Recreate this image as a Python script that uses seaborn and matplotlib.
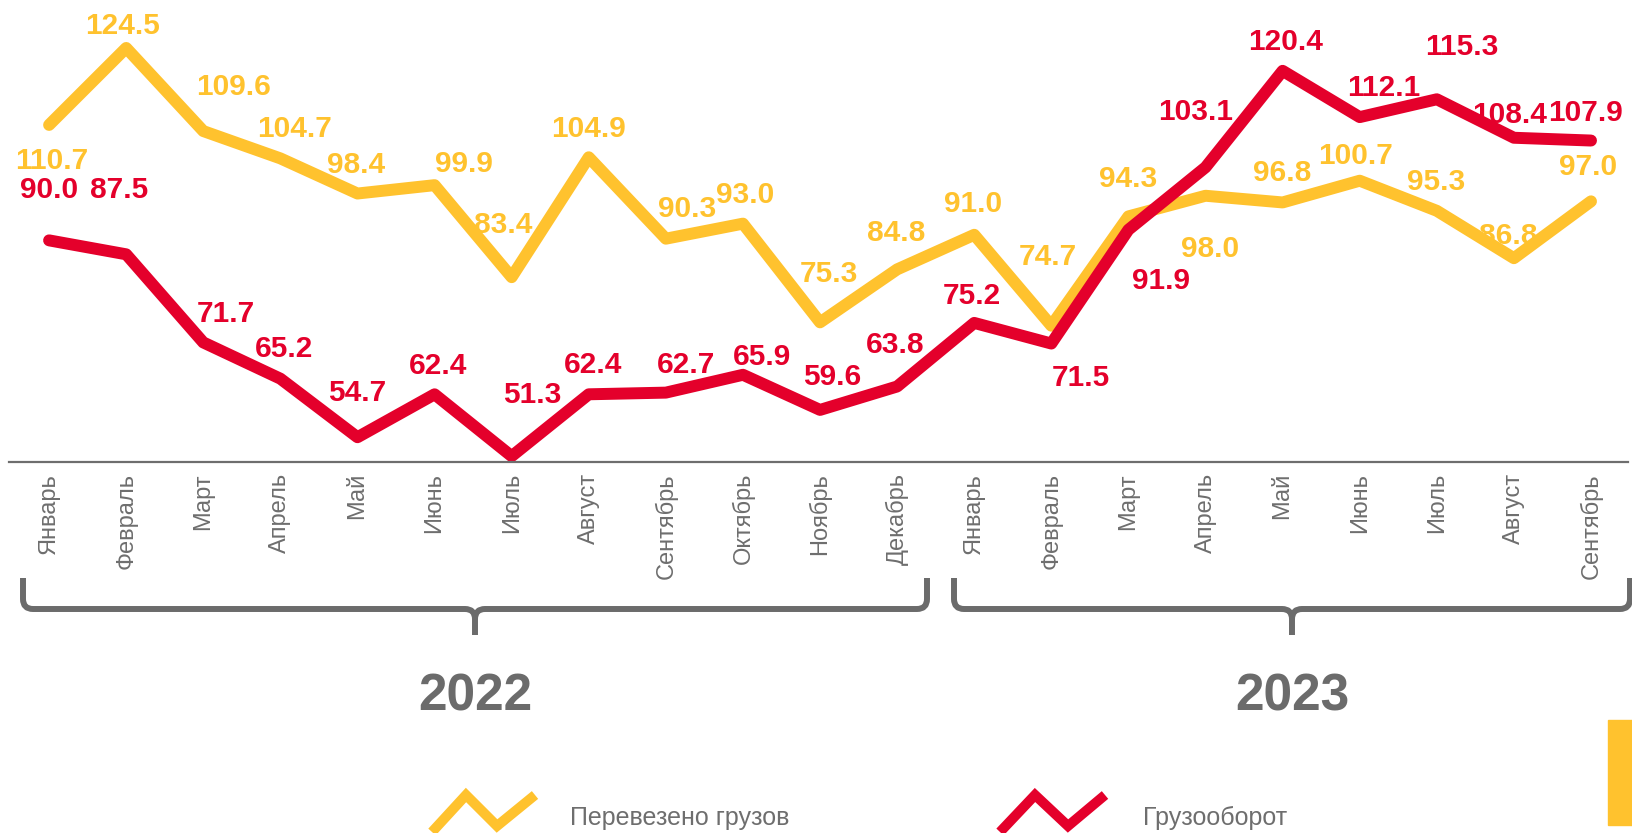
import numpy as np
import pandas as pd
import matplotlib
matplotlib.use("Agg")
import matplotlib.pyplot as plt
from matplotlib.lines import Line2D
from matplotlib.patches import Rectangle, PathPatch
from matplotlib.path import Path
import seaborn as sns

# Данные
months = ["Январь", "Февраль", "Март", "Апрель", "Май", "Июнь", "Июль", "Август",
          "Сентябрь", "Октябрь", "Ноябрь", "Декабрь",
          "Январь", "Февраль", "Март", "Апрель", "Май", "Июнь", "Июль", "Август", "Сентябрь"]
cargo = [110.7, 124.5, 109.6, 104.7, 98.4, 99.9, 83.4, 104.9, 90.3, 93.0, 75.3, 84.8,
         91.0, 74.7, 94.3, 98.0, 96.8, 100.7, 95.3, 86.8, 97.0]
turnover = [90.0, 87.5, 71.7, 65.2, 54.7, 62.4, 51.3, 62.4, 62.7, 65.9, 59.6, 63.8,
            75.2, 71.5, 91.9, 103.1, 120.4, 112.1, 115.3, 108.4, 107.9]
years = ["2022", "2023"]
series_names = ["Перевезено грузов", "Грузооборот"]

YELLOW = "#FFC22E"
RED = "#E4002B"
GRAY = "#6B6B6B"

# смещения подписей от точки (пиксели)
cargo_off = [(3, -36), (-4, 22), (30, 44), (14, 29), (-1, 29), (29, 21), (-8, 52), (0, 28),
             (21, 30), (2, 29), (9, 48), (-1, 36), (-1, 31), (-3, 69), (0, 37), (5, -53),
             (0, 29), (-4, 25), (-1, 29), (-6, 22), (-3, 34)]
turn_off = [(0, 50), (-7, 64), (23, 28), (4, 30), (0, 44), (3, 28), (21, 61), (4, 29),
            (20, 28), (19, 18), (12, 33), (-2, 41), (-2, 27), (30, -34), (33, -51), (-10, 55),
            (3, 29), (24, 29), (25, 52), (-4, 23), (-5, 28)]

sns.set_theme(style="white")
plt.rcParams["font.family"] = ["Liberation Sans", "DejaVu Sans"]

W, H = 1633, 833
fig = plt.figure(figsize=(W / 100, H / 100), dpi=100)
ax = fig.add_axes([9 / W, 1 - 462 / H, (1628 - 9) / W, 462 / H])

df = pd.DataFrame({
    "x": list(range(len(months))) * 2,
    "value": cargo + turnover,
    "series": [series_names[0]] * len(cargo) + [series_names[1]] * len(turnover),
})
sns.lineplot(data=df, x="x", y="value", hue="series",
             palette={series_names[0]: YELLOW, series_names[1]: RED},
             linewidth=8.6, legend=False, ax=ax, clip_on=False)
for line in ax.lines:
    line.set_solid_joinstyle("round")
    line.set_solid_capstyle("round")

for i, v in enumerate(cargo):
    ax.annotate(f"{v:.1f}", (i, v), xytext=cargo_off[i], textcoords="offset pixels",
                ha="center", va="center", fontsize=21.5, fontweight="bold", color=YELLOW,
                zorder=5)
for i, v in enumerate(turnover):
    ax.annotate(f"{v:.1f}", (i, v), xytext=turn_off[i], textcoords="offset pixels",
                ha="center", va="center", fontsize=21.5, fontweight="bold", color=RED,
                zorder=5)

ax.set_xlim(-0.52, 20.48)
ax.set_ylim(50.26, 133.1)
ax.set_xticks(range(len(months)))
ax.set_xticklabels(months, rotation=90, fontsize=17, color="#6E6E6E", va="top")
ax.set_yticks([])
ax.tick_params(axis="x", length=0, pad=8)
ax.set_xlabel("")
ax.set_ylabel("")
for s in ["top", "left", "right"]:
    ax.spines[s].set_visible(False)
ax.spines["bottom"].set_color("#6E6E6E")
ax.spines["bottom"].set_linewidth(1.6)
ax.patch.set_alpha(0)


def px(x, y):
    return (x / W, 1 - y / H)


# фигурные скобки под месяцами
def brace(x0, x1, top=578, y=609, bottom=635, r=10):
    mid = (x0 + x1) / 2
    pts = [px(x0, top), px(x0, y - r), px(x0, y), px(x0 + r, y),
           px(mid - r, y), px(mid, y), px(mid, y + r), px(mid, bottom),
           px(mid, y + r), px(mid, y), px(mid + r, y),
           px(x1 - r, y), px(x1, y), px(x1, y - r), px(x1, top)]
    codes = [Path.MOVETO, Path.LINETO, Path.CURVE3, Path.CURVE3,
             Path.LINETO, Path.CURVE3, Path.CURVE3, Path.LINETO,
             Path.MOVETO, Path.CURVE3, Path.CURVE3,
             Path.LINETO, Path.CURVE3, Path.CURVE3, Path.LINETO]
    patch = PathPatch(Path(pts, codes), fill=False, edgecolor=GRAY, linewidth=4.3,
                      transform=fig.transFigure, capstyle="butt", joinstyle="round")
    fig.add_artist(patch)
    return mid


brace_px = [(23, 927), (954, 1630)]
for (x0, x1), yr in zip(brace_px, years):
    mid = brace(x0, x1)
    fig.text(mid / W, 1 - 697 / H, yr, ha="center", va="center", fontsize=37,
             fontweight="bold", color=GRAY)

# легенда
zig_y = [832, 795, 826, 795]
legend_items = [([432, 466, 497, 535], YELLOW, 570, series_names[0]),
                ([1000, 1035, 1068, 1105], RED, 1143, series_names[1])]
for xs, col, tx, name in legend_items:
    fig.add_artist(Line2D([x / W for x in xs], [1 - y / H for y in zig_y], color=col,
                          linewidth=7.2, solid_joinstyle="miter", solid_capstyle="butt",
                          transform=fig.transFigure))
    fig.text(tx / W, 1 - 825 / H, name, ha="left", va="baseline", fontsize=18,
             color="#6E6E6E")

fig.add_artist(Rectangle(px(1608, 825), 25 / W, 105 / H, color=YELLOW,
                         transform=fig.transFigure))

fig.savefig("out.png", dpi=100)
